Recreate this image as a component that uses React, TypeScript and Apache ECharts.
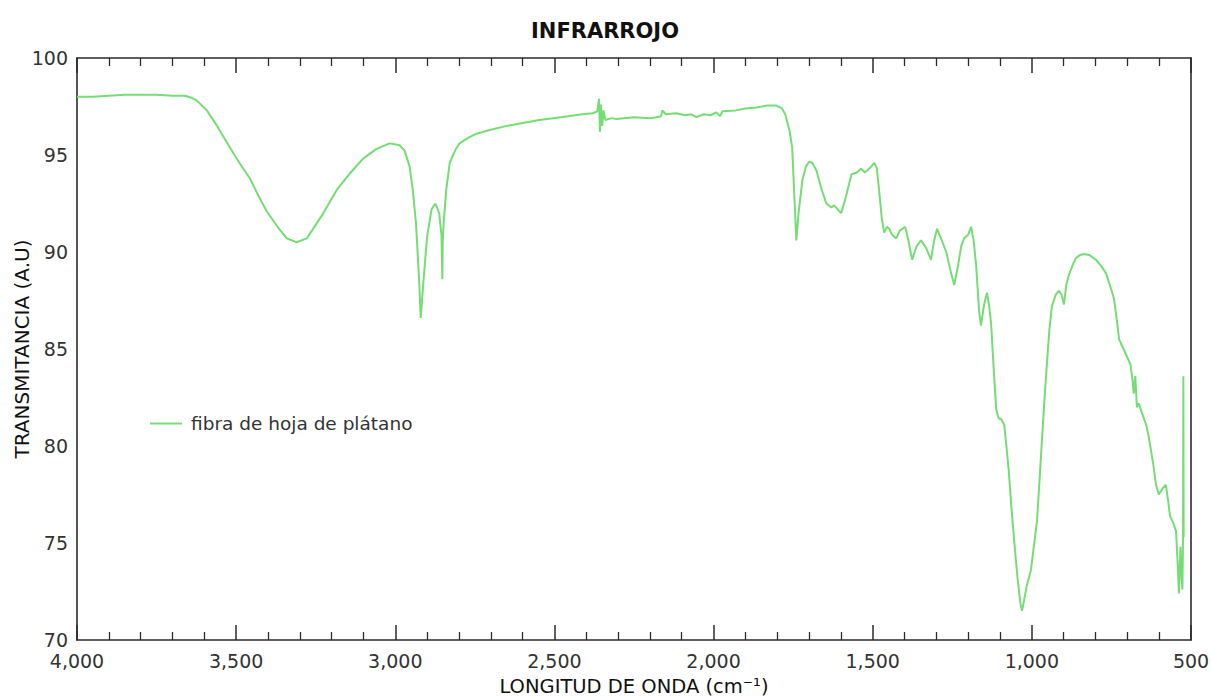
import React, { useEffect, useRef } from "react";
import * as echarts from "echarts";

const chartTitle = "INFRARROJO";
const xAxisName = "LONGITUD DE ONDA (cm⁻¹)";
const yAxisName = "TRANSMITANCIA (A.U)";
const seriesName = "fibra de hoja de plátano";

const xTicks = [4000, 3500, 3000, 2500, 2000, 1500, 1000, 500];
const yTicks = [70, 75, 80, 85, 90, 95, 100];

const wavenumbers = [
  4000, 3950, 3900, 3850, 3800, 3750, 3700, 3661, 3640, 3623, 3592, 3560, 3520, 3490, 3457, 3430,
  3404, 3370, 3341, 3310, 3278, 3230, 3184, 3140, 3102, 3060, 3018, 2986, 2970, 2955, 2945, 2935,
  2925, 2920, 2912, 2900, 2886, 2874, 2862, 2855, 2852, 2851, 2848, 2840, 2829, 2810, 2798, 2770,
  2745, 2700, 2650, 2600, 2547, 2480, 2412, 2380, 2365, 2360, 2357, 2354, 2350, 2346, 2340, 2320,
  2305, 2250, 2200, 2180, 2165, 2161, 2150, 2117, 2090, 2070, 2054, 2030, 2010, 1991, 1980, 1972,
  1930, 1900, 1866, 1830, 1803, 1785, 1775, 1762, 1753, 1746, 1740, 1733, 1721, 1710, 1700, 1690,
  1677, 1660, 1646, 1630, 1621, 1610, 1599, 1585, 1567, 1550, 1536, 1525, 1517, 1505, 1495, 1487,
  1480, 1472, 1464, 1455, 1448, 1440, 1426, 1415, 1398, 1388, 1376, 1362, 1348, 1332, 1317, 1308,
  1298, 1283, 1269, 1255, 1244, 1232, 1222, 1213, 1200, 1191, 1183, 1175, 1166, 1160, 1150, 1141,
  1134, 1128, 1120, 1112, 1104, 1097, 1087, 1080, 1072, 1064, 1056, 1045, 1036, 1031, 1025, 1016,
  1003, 994, 984, 976, 968, 960, 952, 945, 937, 925, 915, 907, 899, 892, 883, 870,
  861, 848, 836, 820, 799, 783, 767, 755, 742, 733, 726, 712, 701, 690, 683, 680,
  675, 670, 664, 652, 641, 633, 626, 618, 610, 601, 590, 579, 572, 566, 555, 547,
  542, 538, 533, 530, 527, 525, 524, 523,
];

const transmittance = [
  98.0, 98.0, 98.05, 98.1, 98.1, 98.1, 98.05, 98.05, 97.95, 97.8, 97.3, 96.5, 95.4, 94.6, 93.8, 92.9,
  92.1, 91.3, 90.7, 90.5, 90.7, 91.9, 93.2, 94.1, 94.8, 95.3, 95.6, 95.5, 95.2, 94.4, 93.2, 91.5,
  88.5, 86.6, 88.4, 90.8, 92.2, 92.5, 92.0, 90.9, 88.6, 90.5, 91.5, 93.2, 94.6, 95.3, 95.6, 95.9,
  96.1, 96.3, 96.5, 96.65, 96.8, 96.95, 97.1, 97.15, 97.25, 97.9, 96.2, 97.6, 96.5, 97.3, 96.8, 96.9,
  96.85, 96.95, 96.9, 96.95, 97.0, 97.3, 97.1, 97.15, 97.05, 97.1, 96.95, 97.1, 97.05, 97.2, 97.0, 97.25,
  97.3, 97.4, 97.45, 97.55, 97.55, 97.4, 97.1, 96.3, 95.4, 92.8, 90.6, 92.0, 93.7, 94.4, 94.65, 94.6,
  94.2, 93.2, 92.5, 92.3, 92.4, 92.2, 92.0, 92.8, 94.0, 94.1, 94.3, 94.1, 94.2, 94.4, 94.6, 94.3,
  93.2, 91.8, 91.0, 91.3, 91.2, 90.9, 90.7, 91.1, 91.3, 90.6, 89.6, 90.3, 90.6, 90.2, 89.6, 90.5,
  91.2, 90.6, 90.0, 89.0, 88.3, 89.3, 90.3, 90.7, 90.9, 91.3, 90.6, 89.3, 87.0, 86.2, 87.3, 87.9,
  87.2, 86.3, 84.0, 81.9, 81.4, 81.4, 81.1, 80.0, 78.6, 76.8, 75.2, 73.2, 71.9, 71.5, 72.0, 72.8,
  73.6, 74.8, 76.1, 78.2, 80.4, 82.5, 84.4, 86.0, 87.2, 87.8, 88.0, 87.8, 87.3, 88.3, 88.85, 89.4,
  89.7, 89.85, 89.9, 89.85, 89.6, 89.3, 88.9, 88.3, 87.6, 86.5, 85.5, 85.0, 84.6, 84.2, 83.3, 82.7,
  83.6, 82.0, 82.2, 81.6, 81.1, 80.5, 79.8, 79.0, 78.0, 77.5, 77.8, 78.0, 77.2, 76.4, 76.0, 75.6,
  74.0, 72.4, 74.8, 73.4, 72.6, 75.3, 83.6, 75.3,
];

const FONT = "DejaVu Sans";
const AXIS_COLOR = "#2b2b2b";
const LINE_COLOR = "#74de74";

export default function App() {
  const ref = useRef<HTMLDivElement>(null);

  useEffect(() => {
    document.body.style.margin = "0";
    if (!ref.current) return;
    const chart = echarts.init(ref.current, null, { renderer: "svg" });
    const data = wavenumbers.map((w, i) => [w, transmittance[i]]);
    const xMin = xTicks[xTicks.length - 1];
    const xMax = xTicks[0];
    const xInterval = xTicks[0] - xTicks[1];
    const yMin = yTicks[0];
    const yMax = yTicks[yTicks.length - 1];
    const yInterval = yTicks[1] - yTicks[0];

    const commonX = {
      type: "value",
      min: xMin,
      max: xMax,
      interval: xInterval,
      inverse: true,
      splitLine: { show: false },
      axisLine: { show: true, onZero: false, lineStyle: { color: AXIS_COLOR, width: 1.6 } },
      axisTick: { show: true, inside: true, length: 15, lineStyle: { color: AXIS_COLOR, width: 1.5 } },
      minorTick: { show: true, splitNumber: 5, length: 8, lineStyle: { color: AXIS_COLOR, width: 1.3 } },
      minorSplitLine: { show: false },
    };

    chart.setOption({
      animation: false,
      backgroundColor: "#ffffff",
      title: {
        text: chartTitle,
        left: 600,
        top: 15,
        textAlign: "center",
        textStyle: { fontFamily: FONT, fontWeight: "bold", fontSize: 21, color: "#111" },
      },
      legend: {
        left: 145,
        top: 409,
        icon: "rect",
        itemWidth: 32,
        itemHeight: 2,
        data: [seriesName],
        textStyle: { fontFamily: FONT, fontSize: 18.5, color: "#333", padding: [0, 0, 0, 4] },
      },
      grid: {
        left: 77,
        right: 20,
        top: 58,
        bottom: 60,
        containLabel: false,
        outerBoundsMode: "none",
      },
      xAxis: [
        {
          ...commonX,
          position: "bottom",
          name: xAxisName,
          nameLocation: "middle",
          nameGap: 35,
          nameMoveOverlap: false,
          nameTextStyle: { fontFamily: FONT, fontSize: 19.5, color: "#111", lineHeight: 22 },
          axisLabel: {
            show: true,
            margin: 11,
            fontFamily: FONT,
            fontSize: 19,
            color: "#333",
            formatter: (v: number) => v.toLocaleString("en-US"),
          },
        },
        {
          ...commonX,
          position: "top",
          axisLabel: { show: false },
        },
      ],
      yAxis: [
        {
          type: "value",
          min: yMin,
          max: yMax,
          interval: yInterval,
          position: "left",
          name: yAxisName,
          nameLocation: "middle",
          nameGap: 45,
          nameRotate: 90,
          nameMoveOverlap: false,
          nameTextStyle: { fontFamily: FONT, fontSize: 20, color: "#111" },
          splitLine: { show: false },
          axisLine: { show: true, lineStyle: { color: AXIS_COLOR, width: 1.6 } },
          axisTick: { show: false },
          axisLabel: { fontFamily: FONT, fontSize: 19, color: "#333", margin: 9 },
        },
        {
          type: "value",
          min: yMin,
          max: yMax,
          interval: yInterval,
          position: "right",
          splitLine: { show: false },
          axisLine: { show: true, lineStyle: { color: AXIS_COLOR, width: 1.6 } },
          axisTick: { show: false },
          axisLabel: { show: false },
        },
      ],
      series: [
        {
          name: seriesName,
          type: "line",
          xAxisIndex: 0,
          yAxisIndex: 0,
          data,
          showSymbol: false,
          symbol: "none",
          lineStyle: { color: LINE_COLOR, width: 2 },
          itemStyle: { color: LINE_COLOR },
        },
      ],
    });

    return () => chart.dispose();
  }, []);

  return (
    <div
      ref={ref}
      style={{ position: "absolute", left: 0, top: 0, width: 1211, height: 700, background: "#fff" }}
    />
  );
}
